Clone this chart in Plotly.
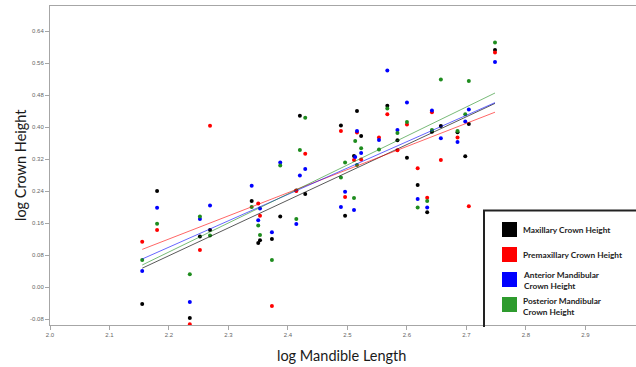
import plotly.graph_objects as go

# ---------------- data ----------------
black_x = [2.155, 2.180, 2.235, 2.252, 2.269, 2.339, 2.350, 2.353, 2.373, 2.387,
           2.414, 2.420, 2.429, 2.489, 2.496, 2.511, 2.516, 2.523, 2.567, 2.584,
           2.600, 2.618, 2.634, 2.642, 2.657, 2.685, 2.698, 2.704, 2.748]
black_y = [-0.0425, 0.240, -0.0775, 0.126, 0.1425, 0.215, 0.110, 0.117, 0.120, 0.176,
           0.241, 0.428, 0.2325, 0.404, 0.178, 0.3275, 0.440, 0.3775, 0.453, 0.3667,
           0.323, 0.255, 0.187, 0.388, 0.4025, 0.3867, 0.3267, 0.4075, 0.5925]

red_x = [2.155, 2.180, 2.235, 2.252, 2.269, 2.350, 2.353, 2.373, 2.414, 2.429,
         2.489, 2.496, 2.511, 2.516, 2.523, 2.553, 2.567, 2.584, 2.600, 2.618,
         2.634, 2.642, 2.657, 2.685, 2.704, 2.748]
red_y = [0.113, 0.1425, -0.093, 0.0925, 0.403, 0.209, 0.178, -0.0475, 0.240, 0.333,
         0.390, 0.225, 0.3175, 0.386, 0.319, 0.374, 0.432, 0.342, 0.406, 0.2967,
         0.223, 0.437, 0.3175, 0.374, 0.2017, 0.586]

blue_x = [2.155, 2.180, 2.235, 2.252, 2.269, 2.339, 2.350, 2.353, 2.373, 2.387,
          2.414, 2.420, 2.429, 2.489, 2.496, 2.511, 2.513, 2.516, 2.523, 2.553,
          2.567, 2.584, 2.600, 2.618, 2.634, 2.642, 2.657, 2.685, 2.698, 2.704, 2.748]
blue_y = [0.040, 0.198, -0.0375, 0.170, 0.204, 0.253, 0.167, 0.196, 0.137, 0.311,
          0.1575, 0.279, 0.295, 0.200, 0.238, 0.1925, 0.325, 0.390, 0.335, 0.3675,
          0.541, 0.3925, 0.461, 0.220, 0.199, 0.441, 0.3717, 0.3625, 0.414, 0.444, 0.5625]

green_x = [2.155, 2.180, 2.235, 2.252, 2.269, 2.339, 2.350, 2.353, 2.373, 2.387,
           2.414, 2.420, 2.429, 2.489, 2.496, 2.511, 2.513, 2.516, 2.523, 2.553,
           2.567, 2.584, 2.600, 2.618, 2.634, 2.642, 2.657, 2.685, 2.698, 2.704, 2.748]
green_y = [0.0675, 0.158, 0.032, 0.176, 0.129, 0.200, 0.154, 0.130, 0.0675, 0.304,
           0.170, 0.3425, 0.423, 0.274, 0.311, 0.2225, 0.365, 0.305, 0.347, 0.344,
           0.446, 0.385, 0.4125, 0.199, 0.215, 0.3925, 0.519, 0.390, 0.432, 0.515, 0.611]

# fit lines (end values)
fit_x = [2.155, 2.748]
fit_black = [0.047, 0.459]
fit_red = [0.094, 0.437]
fit_blue = [0.070, 0.461]
fit_green = [0.055, 0.485]

series_names = ["Maxillary Crown Height", "Premaxillary Crown Height",
                "Anterior Mandibular<br>Crown Height", "Posterior Mandibular<br>Crown Height"]

x_ticks = [2.0, 2.1, 2.2, 2.3, 2.4, 2.5, 2.6, 2.7, 2.8, 2.9]
y_ticks = [-0.08, 0.00, 0.08, 0.16, 0.24, 0.32, 0.40, 0.48, 0.56, 0.64]

# ---------------- styling ----------------
dot_colors = ["#000000", "#ff0000", "#0000ff", "#1e8c1e"]
line_colors = ["rgba(0,0,0,0.65)", "rgba(255,0,0,0.6)", "rgba(0,0,255,0.6)", "rgba(30,140,30,0.6)"]
legend_colors = ["#000000", "#ff0000", "#0000ff", "#2e9b2e"]

xs_all = [black_x, red_x, blue_x, green_x]
ys_all = [black_y, red_y, blue_y, green_y]
fits = [fit_black, fit_red, fit_blue, fit_green]

fig = go.Figure()
for xs, ys, c in zip(xs_all, ys_all, dot_colors):
    fig.add_trace(go.Scatter(x=xs, y=ys, mode="markers",
                             marker=dict(color=c, size=4, line=dict(width=0)),
                             showlegend=False, hoverinfo="x+y"))
for f, lc in zip(fits, line_colors):
    fig.add_trace(go.Scatter(x=fit_x, y=f, mode="lines", line=dict(color=lc, width=1),
                             showlegend=False, hoverinfo="skip"))

W, H = 636, 367
ML, MR, MT, MB = 50, 0, 6, 42
pw, ph = W - ML - MR, H - MT - MB


def px(x):
    return (x - ML) / pw


def py(y):
    return (H - MB - y) / ph


axis_gray = "#a6a6a6"
fig.update_layout(
    width=W, height=H,
    margin=dict(l=ML, r=MR, t=MT, b=MB),
    plot_bgcolor="white", paper_bgcolor="white",
    showlegend=False,
    xaxis=dict(range=[2.0, 2.985], tickvals=x_ticks, ticktext=[f"{v:.1f}" for v in x_ticks],
               showline=True, linecolor=axis_gray, linewidth=1, mirror=True,
               ticks="outside", ticklen=4, tickcolor=axis_gray, tickwidth=1,
               tickfont=dict(size=6, color="#666", family="Liberation Sans"),
               showgrid=False, zeroline=False),
    yaxis=dict(range=[-0.095, 0.7025], tickvals=y_ticks, ticktext=[f"{v:.2f}" for v in y_ticks],
               showline=True, linecolor=axis_gray, linewidth=1, mirror=True,
               ticks="outside", ticklen=4, tickcolor=axis_gray, tickwidth=1,
               tickfont=dict(size=6, color="#666", family="Liberation Sans"),
               showgrid=False, zeroline=False),
)

title_font = dict(family="Lato", size=14.5, color="#1a1a1a")
fig.add_annotation(text="log Mandible Length", xref="paper", yref="paper",
                   x=px(341), y=py(355), xanchor="center", yanchor="middle",
                   showarrow=False, font=title_font)
fig.add_annotation(text="log Crown Height", xref="paper", yref="paper",
                   x=px(20), y=py(165), xanchor="center", yanchor="middle",
                   textangle=-90, showarrow=False, font=title_font)

# ---------------- legend box ----------------
shapes = []
shapes.append(dict(type="rect", xref="paper", yref="paper", x0=px(484), x1=px(640),
                   y0=py(324), y1=py(210.5), fillcolor="white", line=dict(width=0), layer="above"))
shapes.append(dict(type="line", xref="paper", yref="paper", x0=px(484), x1=px(484),
                   y0=py(327), y1=py(210.5), line=dict(color="#222", width=2), layer="above"))
shapes.append(dict(type="line", xref="paper", yref="paper", x0=px(483), x1=px(640),
                   y0=py(210.5), y1=py(210.5), line=dict(color="#222", width=2), layer="above"))
sq_tops = [222, 247, 272, 297]
text_y = [230, 255, 280.5, 306.5]
for c, t, ty, name in zip(legend_colors, sq_tops, text_y, series_names):
    shapes.append(dict(type="rect", xref="paper", yref="paper", x0=px(502), x1=px(517),
                       y0=py(t + 15), y1=py(t), fillcolor=c, line=dict(width=0), layer="above"))
    fig.add_annotation(text=f"<b>{name}</b>", xref="paper", yref="paper",
                       x=px(521), y=py(ty), xanchor="left", yanchor="middle", align="left",
                       showarrow=False,
                       font=dict(family="Lato", size=8.3, color="#222"))
fig.update_layout(shapes=shapes)

fig.write_html("out.html", config={"displayModeBar": False},
               post_script="document.body.style.margin='0';document.body.style.overflow='hidden';")
